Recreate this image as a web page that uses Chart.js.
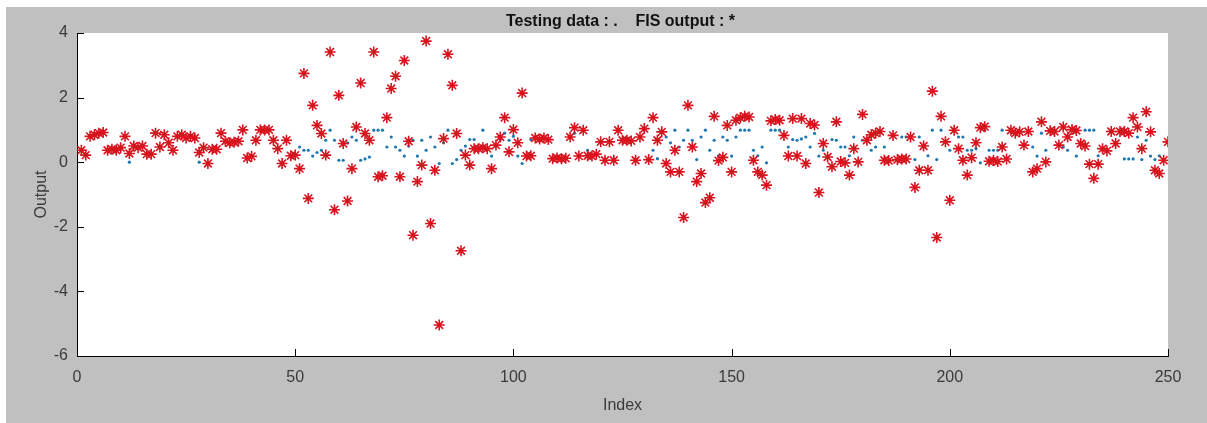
<!DOCTYPE html>
<html lang="en">
<head>
    <meta charset="UTF-8">
    <title>Testing data vs FIS output</title>
    <script src="https://cdn.jsdelivr.net/npm/chart.js"></script>
    <style>
        body { margin: 0; background: #fff; }
    </style>
</head>
<body>

<canvas id="fisChart" width="1207" height="423"></canvas>

<script>
    // x ticks / y ticks shown on the axes
    var xTicks = [0, 50, 100, 150, 200, 250];
    var yTicks = [-6, -4, -2, 0, 2, 4];

    // testing data (blue dots), index 1..250
    var testingData = [
        0.37, 0.22, 0.8, 0.85, 0.9, 0.92, 0.37, 0.4, 0.37, 0.45,
        0.8, 0.0, 0.5, 0.45, 0.5, 0.25, 0.25, 0.9, 0.47, 0.85,
        0.6, 0.37, 0.8, 0.85, 0.75, 0.8, 0.75, 0.0, 0.45, -0.04,
        0.4, 0.4, 0.9, 0.65, 0.6, 0.62, 0.65, 1.0, 0.13, 0.18,
        0.68, 1.0, 1.0, 1.0, 0.68, 0.42, -0.04, 0.68, 0.2, 0.22,
        0.47, 0.37, 0.37, 0.19, 0.3, 0.37, 0.68, 0.99, 0.68, 0.06,
        0.06, 0.6, 0.78, 0.68, 0.06, 0.1, 0.16, 0.99, 0.99, 0.99,
        0.47, 0.78, 0.47, 0.37, 0.19, 0.5, 0.68, 0.19, 0.68, 0.37,
        0.78, 0.47, -0.04, 0.6, 0.99, -0.04, 0.08, 0.37, 0.5, 0.7,
        0.7, 0.45, 0.99, 0.42, 0.19, 0.5, 0.7, 0.9, 0.68, 0.8,
        0.19, -0.04, 0.19, 0.7, 0.75, 0.72, 0.75, 0.7, 0.11, 0.13,
        0.11, 0.12, 0.78, 0.9, 0.19, 0.99, 0.37, 0.19, 0.25, 0.63,
        0.06, 0.63, 0.06, 0.99, 0.68, 0.68, 0.66, 0.06, 0.78, 0.99,
        0.08, 0.37, 0.11, 0.94, 0.78, 0.6, 0.99, 0.47, 0.68, 0.99,
        0.68, 0.08, 0.78, 0.99, 0.37, 0.68, 0.2, 0.78, 0.68, 0.19,
        0.78, 0.99, 0.99, 0.99, 0.37, 0.2, 0.47, -0.02, 0.99, 0.99,
        0.99, 0.83, 0.47, 0.7, 0.68, 0.72, 0.78, 0.47, 0.89, 0.19,
        0.37, 0.16, 0.7, 0.68, 0.47, 0.47, 0.2, 0.78, 0.01, 0.68,
        0.68, 0.37, 0.47, 0.95, 0.47, 0.05, 0.83, 0.08, 0.78, 0.78,
        0.78, 0.08, 0.78, 0.5, 0.2, 0.99, 0.08, 0.99, 0.63, 0.37,
        0.99, 0.78, 0.78, 0.37, 0.37, 0.42, -0.02, 0.99, 0.37, 0.37,
        0.37, 0.99, 0.1, 0.99, 0.9, 0.94, 0.53, 0.95, 0.47, 0.19,
        0.9, 0.37, 0.97, 0.99, 0.53, 0.47, 0.37, 1.0, 0.19, 0.58,
        0.99, 0.99, 0.99, 0.2, 0.42, 0.35, 0.95, 0.58, 0.95, 0.1,
        0.1, 0.1, 0.78, 0.08, 0.68, 0.19, 0.08, 0.2, 0.06, 0.63
    ];

    // FIS output (red asterisks), index 1..250
    var fisOutput = [
        0.37, 0.22, 0.8, 0.85, 0.9, 0.92, 0.37, 0.4, 0.37, 0.45,
        0.8, 0.27, 0.5, 0.45, 0.5, 0.25, 0.25, 0.9, 0.47, 0.85,
        0.6, 0.37, 0.8, 0.85, 0.75, 0.8, 0.75, 0.3, 0.45, -0.04,
        0.4, 0.4, 0.9, 0.65, 0.6, 0.62, 0.65, 1.0, 0.13, 0.18,
        0.68, 1.0, 1.0, 1.0, 0.68, 0.42, -0.04, 0.68, 0.2, 0.22,
        -0.2, 2.75, -1.12, 1.76, 1.14, 0.89, 0.22, 3.41, -1.47, 2.07,
        0.58, -1.2, -0.2, 1.09, 2.45, 0.89, 0.68, 3.41, -0.45, -0.42,
        1.38, 2.28, 2.66, -0.45, 3.15, 0.65, -2.26, -0.6, -0.09, 3.75,
        -1.9, -0.25, -5.04, 0.73, 3.34, 2.38, 0.89, -2.74, 0.22, -0.09,
        0.42, 0.42, 0.45, 0.42, -0.2, 0.53, 0.78, 1.38, 0.32, 1.01,
        0.6, 2.14, 0.19, 0.2, 0.75, 0.72, 0.75, 0.7, 0.11, 0.13,
        0.11, 0.12, 0.78, 1.07, 0.19, 0.99, 0.2, 0.19, 0.25, 0.63,
        0.06, 0.63, 0.06, 0.99, 0.68, 0.68, 0.66, 0.06, 0.78, 1.04,
        0.08, 1.38, 0.68, 0.94, -0.04, -0.3, 0.37, -0.3, -1.71, 1.76,
        0.47, -0.6, -0.35, -1.25, -1.1, 1.42, 0.05, 0.15, 1.14, -0.3,
        1.3, 1.38, 1.42, 1.4, 0.06, -0.3, -0.4, -0.71, 1.28, 1.32,
        1.3, 0.83, 0.19, 1.35, 0.19, 1.35, -0.04, 1.2, 1.15, -0.94,
        0.58, 0.16, -0.14, 1.25, 0.02, -0.02, -0.4, 0.42, 0.01, 1.48,
        0.68, 0.85, 0.9, 0.95, 0.06, 0.05, 0.83, 0.08, 0.1, 0.1,
        0.78, -0.78, -0.25, 0.5, -0.25, 2.2, -2.33, 1.42, 0.63, -1.18,
        0.99, 0.42, 0.06, -0.4, 0.14, 0.6, 1.07, 1.1, 0.03, 0.05,
        0.02, 0.47, 0.1, 0.99, 0.9, 0.94, 0.53, 0.95, -0.3, -0.2,
        1.25, 0.01, 0.97, 0.95, 0.53, 1.09, 0.78, 1.01, 0.98, 0.58,
        0.5, -0.06, -0.5, -0.06, 0.42, 0.35, 0.95, 0.58, 0.95, 0.95,
        0.9, 1.38, 1.09, 0.42, 1.56, 0.94, -0.25, -0.35, 0.06, 0.63
    ];

    var titleText = 'Testing data : .    FIS output : *';
    var xLabel = 'Index';
    var yLabel = 'Output';

    function toPoints(values) {
        return values.map(function (v, i) { return { x: i + 1, y: v }; });
    }

    var textColor = '#3a3a3a';
    var fontFamily = '"Liberation Sans", Arial, sans-serif';

    // matlab-ish figure: grey panel, inward ticks, titles
    var figurePlugin = {
        id: 'figure',
        beforeDraw: function (chart) {
            var ctx = chart.ctx;
            ctx.save();
            ctx.fillStyle = '#c0c0c0';
            ctx.fillRect(6, 7, 1201, 416);
            var a = chart.chartArea;
            ctx.fillStyle = '#ffffff';
            ctx.fillRect(a.left, a.top, a.right - a.left, a.bottom - a.top);
            ctx.restore();
        },
        afterDraw: function (chart) {
            var ctx = chart.ctx;
            var a = chart.chartArea;
            var xs = chart.scales.x, ys = chart.scales.y;
            ctx.save();
            ctx.strokeStyle = '#000000';
            ctx.lineWidth = 1;
            ctx.beginPath();
            xTicks.forEach(function (t) {
                var px = Math.round(xs.getPixelForValue(t)) + 0.5;
                ctx.moveTo(px, a.bottom);
                ctx.lineTo(px, a.bottom - 7);
            });
            yTicks.forEach(function (t) {
                var py = Math.round(ys.getPixelForValue(t)) + 0.5;
                ctx.moveTo(a.left, py);
                ctx.lineTo(a.left + 7, py);
            });
            ctx.stroke();

            ctx.fillStyle = '#111111';
            ctx.font = 'bold 16px ' + fontFamily;
            ctx.textAlign = 'center';
            ctx.textBaseline = 'alphabetic';
            ctx.fillText(titleText, (a.left + a.right) / 2 - 2, 26);

            ctx.fillStyle = textColor;
            ctx.font = '16px ' + fontFamily;
            ctx.fillText(xLabel, (a.left + a.right) / 2, 410);

            ctx.translate(46, (a.top + a.bottom) / 2);
            ctx.rotate(-Math.PI / 2);
            ctx.fillText(yLabel, 0, 0);
            ctx.restore();
        }
    };

    var ctx = document.getElementById('fisChart').getContext('2d');
    var chart = new Chart(ctx, {
        type: 'scatter',
        data: {
            datasets: [{
                label: 'FIS output',
                data: toPoints(fisOutput),
                pointStyle: 'star',
                radius: 5.5,
                borderWidth: 1.6,
                borderColor: 'rgb(215, 20, 30)',
                backgroundColor: 'rgb(215, 20, 30)',
                order: 0
            }, {
                label: 'Testing data',
                data: toPoints(testingData),
                pointStyle: 'circle',
                radius: 1.6,
                borderWidth: 0,
                backgroundColor: 'rgb(30, 120, 175)',
                order: 1
            }]
        },
        options: {
            responsive: false,
            animation: false,
            layout: { padding: { left: 0, top: 33, right: 39, bottom: 0 } },
            plugins: {
                legend: { display: false },
                tooltip: { enabled: false }
            },
            scales: {
                x: {
                    type: 'linear',
                    min: 0,
                    max: 250,
                    afterFit: function (s) { s.height = 67; },
                    afterBuildTicks: function (s) { s.ticks = xTicks.map(function (v) { return { value: v }; }); },
                    grid: { display: true, drawOnChartArea: false, drawTicks: false },
                    border: { display: true, color: '#000000', width: 1 },
                    ticks: {
                        padding: 12,
                        color: textColor,
                        font: { family: fontFamily, size: 16 },
                        maxRotation: 0
                    }
                },
                y: {
                    min: -6,
                    max: 4,
                    afterFit: function (s) { s.width = 77; },
                    afterBuildTicks: function (s) { s.ticks = yTicks.map(function (v) { return { value: v }; }); },
                    grid: { display: true, drawOnChartArea: false, drawTicks: false },
                    border: { display: true, color: '#000000', width: 1 },
                    ticks: {
                        padding: 9,
                        color: textColor,
                        font: { family: fontFamily, size: 16 }
                    }
                }
            }
        },
        plugins: [figurePlugin]
    });
</script>

</body>
</html>
